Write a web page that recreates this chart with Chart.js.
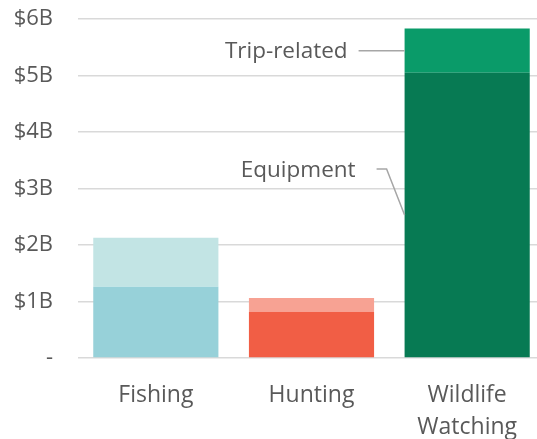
<!DOCTYPE html>
<html>
<head>
<meta charset="utf-8">
<script src="https://cdn.jsdelivr.net/npm/chart.js@4/dist/chart.umd.min.js"></script>
<style>
  html, body { margin: 0; padding: 0; background: #fff; overflow: hidden; }
  #wrap { width: 537px; height: 439px; position: relative; overflow: hidden; }
  canvas { display: block; }
</style>
</head>
<body>
<div id="wrap"><canvas id="c" width="545" height="439"></canvas></div>
<script>
const categories = ['Fishing', 'Hunting', ['Wildlife', 'Watching']];
const equipment = [1.26, 0.82, 5.05];   // $ billions
const tripRelated = [0.87, 0.24, 0.78]; // $ billions
const yTicks = [0, 1, 2, 3, 4, 5, 6];
const seriesNames = ['Equipment', 'Trip-related'];
const equipmentColors = ['#97d1d9', '#f15e45', '#077a53'];
const tripColors = ['#c2e4e4', '#f7a293', '#0a9b69'];

const FONT = '"Open Sans", "Noto Sans", sans-serif';
const TEXT = '#595959';

const calloutPlugin = {
  id: 'callouts',
  afterDatasetsDraw(chart) {
    const ctx = chart.ctx;
    const bEq = chart.getDatasetMeta(0).data[2];
    const bTr = chart.getDatasetMeta(1).data[2];
    const left = bTr.x - bTr.width / 2;
    ctx.save();
    ctx.font = '22.5px ' + FONT;
    ctx.fillStyle = TEXT;
    ctx.strokeStyle = '#a6a6a6';
    ctx.lineWidth = 1.5;
    ctx.textAlign = 'right';
    ctx.textBaseline = 'middle';
    // Trip-related
    const yTr = (bTr.y + bTr.base) / 2;
    ctx.fillText(seriesNames[1], left - 57, yTr + 1);
    ctx.beginPath();
    ctx.moveTo(left - 46, yTr);
    ctx.lineTo(left, yTr);
    ctx.stroke();
    // Equipment
    const yEq = (bEq.y + bEq.base) / 2;
    const yLab = yEq - 46;
    ctx.fillText(seriesNames[0], left - 49, yLab + 2);
    ctx.beginPath();
    ctx.moveTo(left - 28, yLab);
    ctx.lineTo(left - 18, yLab);
    ctx.lineTo(left, yEq);
    ctx.stroke();
    ctx.restore();
  }
};

new Chart(document.getElementById('c'), {
  type: 'bar',
  data: {
    labels: categories,
    datasets: [
      { label: seriesNames[0], data: equipment, backgroundColor: equipmentColors, borderWidth: 0 },
      { label: seriesNames[1], data: tripRelated, backgroundColor: tripColors, borderWidth: 0 }
    ]
  },
  options: {
    responsive: false,
    animation: false,
    devicePixelRatio: 1,
    layout: { padding: { top: 19, right: 0, left: 0, bottom: 0 } },
    datasets: { bar: { categoryPercentage: 1, barPercentage: 0.804 } },
    plugins: { legend: { display: false }, tooltip: { enabled: false } },
    scales: {
      x: {
        stacked: true,
        grid: { display: false },
        border: { display: false },
        ticks: { color: TEXT, font: { family: FONT, size: 23, lineHeight: 1.4 }, padding: 13, maxRotation: 0, autoSkip: false },
        afterFit(s) { s.height = 81; }
      },
      y: {
        stacked: true,
        min: 0, max: 6,
        afterBuildTicks(s) { s.ticks = yTicks.map(v => ({ value: v })); },
        grid: { color: '#d9d9d9', lineWidth: 1.5, drawTicks: true, tickLength: 25, tickColor: 'rgba(0,0,0,0)' },
        border: { display: false },
        ticks: {
          color: TEXT, font: { family: FONT, size: 22 }, padding: 0,
          callback: v => v === 0 ? '-' : '$' + v + 'B'
        },
        afterFit(s) { s.width = 78; }
      }
    }
  },
  plugins: [calloutPlugin]
});
</script>
</body>
</html>
